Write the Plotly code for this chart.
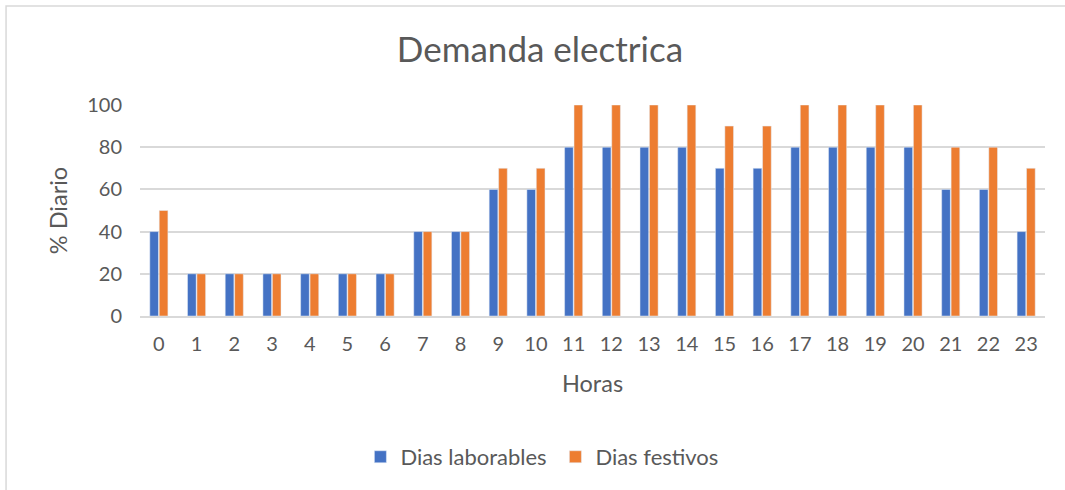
import plotly.graph_objects as go

horas = [str(h) for h in range(24)]
laborables = [40, 20, 20, 20, 20, 20, 20, 40, 40, 60, 60, 80, 80, 80, 80, 70, 70, 80, 80, 80, 80, 60, 60, 40]
festivos = [50, 20, 20, 20, 20, 20, 20, 40, 40, 70, 70, 100, 100, 100, 100, 90, 90, 100, 100, 100, 100, 80, 80, 70]

gris = "#595959"
fuente = "Lato"

fig = go.Figure()
fig.add_trace(go.Bar(x=horas, y=laborables, name="Dias laborables", marker_color="#4472C4"))
fig.add_trace(go.Bar(x=horas, y=festivos, name="Dias festivos", marker_color="#ED7D31"))

fig.update_layout(
    width=1065, height=490,
    margin=dict(l=140, r=20, t=105, b=174),
    paper_bgcolor="white", plot_bgcolor="white",
    font=dict(family=fuente, size=20, color=gris),
    title=dict(text="Demanda electrica", x=0.507, xanchor="center", y=0.898, yanchor="middle",
               font=dict(size=35, color=gris)),
    barmode="group", bargap=0.5, bargroupgap=0.08,
    legend=dict(orientation="h", x=0.459, xanchor="center", y=-0.668, yanchor="middle",
                font=dict(size=22), entrywidth=150, traceorder="normal"),
)
fig.update_xaxes(type="category", showline=True, linecolor="#D9D9D9", linewidth=1.5,
                 ticks="outside", ticklen=9, tickcolor="rgba(0,0,0,0)",
                 title=dict(text="Horas", standoff=22, font=dict(size=23.5)))
fig.update_yaxes(range=[0, 100], dtick=20, showgrid=True, gridcolor="#D9D9D9", gridwidth=1.5,
                 zeroline=False, ticks="outside", ticklen=13, tickcolor="rgba(0,0,0,0)",
                 title=dict(text="% Diario", standoff=12, font=dict(size=23.5)))

# borde del área del gráfico (izquierda y arriba)
fig.add_shape(type="rect", xref="paper", yref="paper", x0=-0.148, x1=1.2, y0=-1.2, y1=1.469,
              line=dict(color="#D9D9D9", width=1.5))

fig.write_html("out.html", config={"displayModeBar": False},
               post_script="document.body.style.margin='0';")
